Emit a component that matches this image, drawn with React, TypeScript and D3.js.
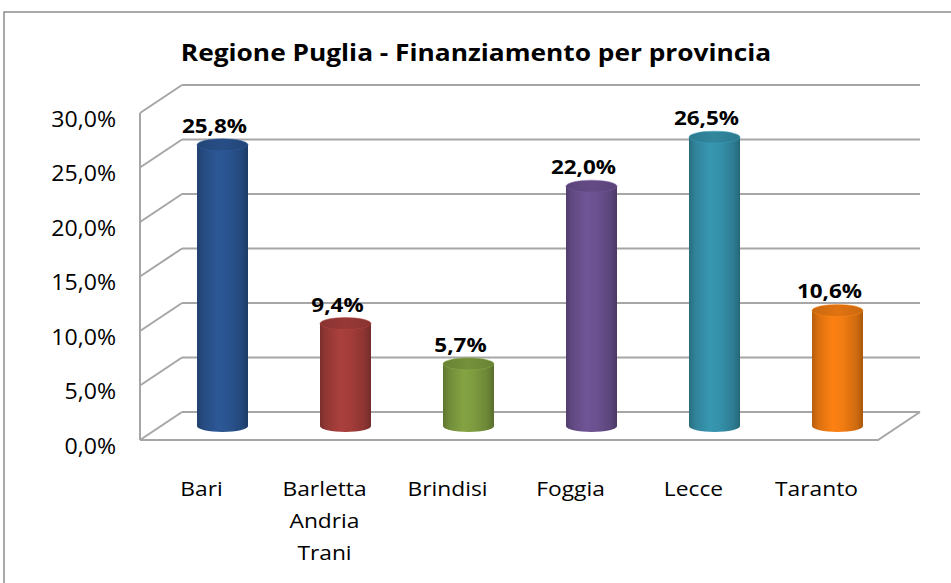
import React from "react";
import * as d3 from "d3";

const categories = ["Bari", "Barletta Andria Trani", "Brindisi", "Foggia", "Lecce", "Taranto"];
const values = [25.8, 9.4, 5.7, 22.0, 26.5, 10.6];
const colors = ["#2A5490", "#A33D3A", "#7E9C3F", "#6B5190", "#3591AA", "#F27C12"];
const yTicks = [0, 5, 10, 15, 20, 25, 30];
const title = "Regione Puglia - Finanziamento per provincia";

const W = 951, H = 583;
const FONT = "'Open Sans', 'Noto Sans', sans-serif";
const SX = 1.1;

const fmt = (v: number) => v.toFixed(1).replace(".", ",") + "%";

export default function App() {
  const y = d3.scaleLinear().domain([0, 30]).range([440, 113]);
  const x = d3.scaleBand<string>().domain(categories).range([140, 878]);
  const DX = 42, DY = -28;
  const bx = 21, by = -14; // bar depth offset
  const r = 25.5, ry = 6;

  const shade = (c: string, k: number) => d3.rgb(c).darker(k).formatHex();
  const light = (c: string, k: number) => d3.rgb(c).brighter(k).formatHex();

  return (
    <svg width={W} height={H} style={{ position: "absolute", left: 0, top: 0 }} fontFamily={FONT}>
      <defs>
        {colors.map((c, i) => (
          <linearGradient key={i} id={`g${i}`} x1="0" x2="1" y1="0" y2="0">
            <stop offset="0" stopColor={shade(c, 0.8)} />
            <stop offset="0.12" stopColor={shade(c, 0.3)} />
            <stop offset="0.4" stopColor={light(c, 0.12)} />
            <stop offset="0.6" stopColor={c} />
            <stop offset="0.88" stopColor={shade(c, 0.45)} />
            <stop offset="1" stopColor={shade(c, 1.0)} />
          </linearGradient>
        ))}
        {colors.map((c, i) => (
          <linearGradient key={`t${i}`} id={`t${i}`} x1="0" x2="1" y1="0" y2="0">
            <stop offset="0" stopColor={shade(c, 0.5)} />
            <stop offset="0.5" stopColor={shade(c, 0.2)} />
            <stop offset="1" stopColor={shade(c, 0.5)} />
          </linearGradient>
        ))}
      </defs>
      <rect x={0} y={0} width={W} height={H} fill="#fff" />
      <rect x={4} y={12} width={1200} height={1200} fill="none" stroke="#8c8c8c" strokeWidth={1.5} />

      {/* title */}
      <text
        transform={`translate(476,61) scale(${SX},1)`}
        textAnchor="middle"
        fontWeight="bold"
        fontSize={23.9}
        fill="#000"
      >
        {title}
      </text>

      {/* back wall gridlines and side wall */}
      {yTicks.map((t) => (
        <g key={t} stroke="#a6a6a6" strokeWidth={2} fill="none">
          <line x1={140 + DX} x2={878 + DX} y1={y(t) + DY} y2={y(t) + DY} />
          <line x1={140} x2={140 + DX} y1={y(t)} y2={y(t) + DY} />
        </g>
      ))}
      <line x1={140} x2={140} y1={y(30)} y2={y(0)} stroke="#a6a6a6" strokeWidth={2} />
      {/* floor */}
      <polyline
        points={`${140},${y(0)} ${878},${y(0)} ${878 + DX},${y(0) + DY}`}
        fill="none"
        stroke="#a6a6a6"
        strokeWidth={2}
      />

      {/* y tick labels */}
      {yTicks.map((t) => (
        <text
          key={`l${t}`}
          transform={`translate(116,${y(t) + 13.5}) scale(${SX},1)`}
          textAnchor="end"
          fontSize={21}
          fill="#000"
        >
          {fmt(t)}
        </text>
      ))}

      {/* bars */}
      {categories.map((c, i) => {
        const cx = (x(c) as number) + x.bandwidth() / 2 + bx;
        const base = y(0) + by;
        const top = y(values[i]) + by;
        return (
          <g key={c}>
            <path
              d={`M${cx - r},${top} L${cx - r},${base} A${r},${ry} 0 0 0 ${cx + r},${base} L${cx + r},${top} Z`}
              fill={`url(#g${i})`}
            />
            <ellipse cx={cx} cy={top} rx={r} ry={ry} fill={`url(#t${i})`} stroke={light(colors[i], 0.3)} strokeWidth={0.8} strokeOpacity={0.6} />
            <text
              transform={`translate(${cx - 8},${top - 12}) scale(${SX},1)`}
              textAnchor="middle"
              fontWeight="bold"
              fontSize={20.4}
              fill="#000"
            >
              {fmt(values[i])}
            </text>
          </g>
        );
      })}

      {/* x labels */}
      {categories.map((c) => {
        const cx = (x(c) as number) + x.bandwidth() / 2;
        const words = c.split(" ");
        return (
          <g key={`x${c}`}>
            {words.map((w, j) => (
              <text
                key={j}
                transform={`translate(${cx},${496 + j * 32}) scale(${SX},1)`}
                textAnchor="middle"
                fontSize={20.7}
                fill="#000"
              >
                {w}
              </text>
            ))}
          </g>
        );
      })}
    </svg>
  );
}
